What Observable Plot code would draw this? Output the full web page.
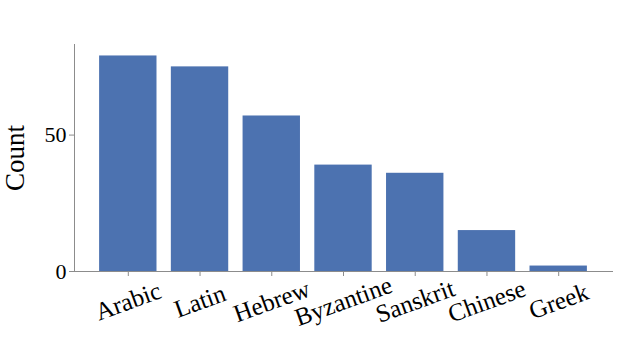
<!DOCTYPE html>
<html>
<head>
<meta charset="utf-8">
<script src="https://cdn.jsdelivr.net/npm/d3@7"></script>
<script src="https://cdn.jsdelivr.net/npm/@observablehq/plot@0.6"></script>
<style>
  html, body { margin: 0; padding: 0; background: #fff; }
  svg { display: block; }
</style>
</head>
<body>
<div id="chart"></div>
<script>
const categories = ["Arabic", "Latin", "Hebrew", "Byzantine", "Sanskrit", "Chinese", "Greek"];
const counts = [79, 75, 57, 39, 36, 15, 2];
const yTicks = [0, 50];
const yLabel = "Count";

const data = categories.map((c, i) => ({category: c, count: counts[i]}));
const font = "'Liberation Serif', 'Times New Roman', serif";

const chart = Plot.plot({
  width: 639,
  height: 343,
  marginLeft: 74,
  marginRight: 27,
  marginTop: 44,
  marginBottom: 72,
  style: {fontFamily: font, background: "#fff", color: "#000"},
  x: {domain: categories, paddingInner: 0.2, paddingOuter: 0.35, round: false, axis: null},
  y: {domain: [0, 83.2], axis: null},
  marks: [
    Plot.barY(data, {x: "category", y: "count", fill: "#4C72B0"}),
    Plot.frame({anchor: "left", stroke: "#8c8c8c", strokeWidth: 1}),
    Plot.frame({anchor: "bottom", stroke: "#8c8c8c", strokeWidth: 1}),
    Plot.axisY({ticks: yTicks, tickSize: 5, tickPadding: 3, stroke: "#8c8c8c", fill: "#000", fontSize: 22, fontFamily: font, label: null}),
    Plot.axisX({tickSize: 5, tickFormat: () => "", stroke: "#8c8c8c", label: null}),
    Plot.text(data, {x: "category", y: 0, text: "category", dy: 30, rotate: -20, textAnchor: "middle", lineAnchor: "middle", fontSize: 25, fontFamily: font, fill: "#000"}),
    Plot.text([yLabel], {frameAnchor: "left", dx: -59, rotate: -90, text: d => d, fontSize: 27, fontFamily: font, fill: "#000", textAnchor: "middle", lineAnchor: "middle"})
  ]
});
document.getElementById("chart").append(chart);
</script>
</body>
</html>
